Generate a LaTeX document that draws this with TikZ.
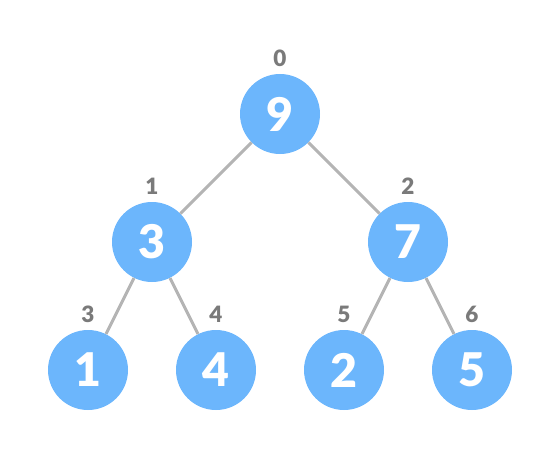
\documentclass[tikz,border=0pt]{standalone}
\usepackage{fontspec}
\setmainfont{Lato}
\newfontfamily\heapfont{Lato Black}
\usepackage{tikz}
\definecolor{heapblue}{RGB}{108,182,252}
\definecolor{edgegray}{RGB}{180,180,180}
\definecolor{idxgray}{RGB}{122,122,122}
\tikzset{
	heapnode/.style={circle, fill=heapblue, minimum size=2cm, inner sep=0pt, text=white, font=\fontsize{33}{33}\selectfont\heapfont},
	heapedge/.style={line width=2.1pt, color=edgegray},
	heapidx/.style={text=idxgray, inner sep=0pt, font=\fontsize{16}{16}\selectfont\heapfont}
}

\begin{document}
\begin{tikzpicture}
		%%%%% START %%%%%
		
		\useasboundingbox (0, 0) rectangle (14, 11.45);
		
		\node[heapnode] (n0) at (7, 8.6) {9};
		\node[heapnode] (n1) at (3.8, 5.4) {3};
		\node[heapnode] (n2) at (10.2, 5.4) {7};
		\node[heapnode] (n3) at (2.2, 2.2) {1};
		\node[heapnode] (n4) at (5.4, 2.2) {4};
		\node[heapnode] (n5) at (8.6, 2.2) {2};
		\node[heapnode] (n6) at (11.8, 2.2) {5};
		
		\draw[heapedge] (n0) -- (n1);
		\draw[heapedge] (n0) -- (n2);
		\draw[heapedge] (n1) -- (n3);
		\draw[heapedge] (n1) -- (n4);
		\draw[heapedge] (n2) -- (n5);
		\draw[heapedge] (n2) -- (n6);
		
		\node[heapidx] (i0) at (7, 10.0) {0};
		\node[heapidx] (i1) at (3.8, 6.8) {1};
		\node[heapidx] (i2) at (10.2, 6.8) {2};
		\node[heapidx] (i3) at (2.2, 3.6) {3};
		\node[heapidx] (i4) at (5.4, 3.6) {4};
		\node[heapidx] (i5) at (8.6, 3.6) {5};
		\node[heapidx] (i6) at (11.8, 3.6) {6};
		
		%%%%% END %%%%%
	\end{tikzpicture}
\end{document}
